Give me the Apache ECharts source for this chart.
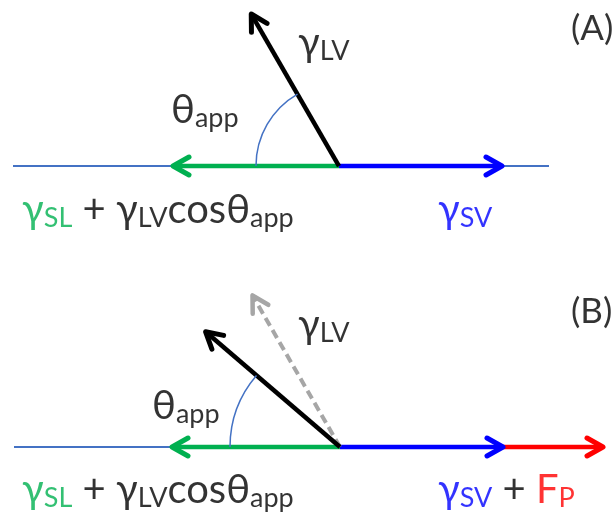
<!DOCTYPE html>
<html>
<head>
<meta charset="utf-8">
<script src="https://cdn.jsdelivr.net/npm/echarts@6/dist/echarts.min.js"></script>
<style>html,body{margin:0;padding:0;background:#fff}#c{width:616px;height:520px}</style>
</head>
<body>
<div id="c"></div>
<script>
// ---- Data (diagram units: 1 unit = length scale of the force diagram; origin = contact point) ----
const panelIds      = ['A', 'B'];
const baseLeft      = [-3.26, -3.26];   // solid surface line extent
const baseRight     = [2.10, 2.09];
const gammaSLLen    = [1.66, 1.68];     // γSL + γLV cosθ (green, to the left)
const gammaSVLen    = [1.63, 1.63];     // γSV (blue, to the right)
const forcePLen     = [0, 1.00];        // F_P (red, continues γSV)
const gammaLVLen    = [1.755, 1.77];    // γLV magnitude
const thetaApp      = [60, 40.6];       // apparent contact angle (deg)
const ghostLen      = [0, 1.75];        // previous γLV (dashed grey)
const ghostTheta    = [0, 60];
const arcRadius     = [0.83, 1.10];

// labels: [x, y] anchors in diagram units, and rich-text content
const labelPosA = [[2.32, 1.37], [-0.41, 1.23], [-1.68, 0.56], [-3.17, -0.44], [0.99, -0.44]];
const labelPosB = [[2.31, 1.35], [-0.42, 1.22], [-1.88, 0.41], [-3.18, -0.43], [0.98, -0.43]];
const labelTextA = ['{p|(A)}', '{m|γ}{ms|LV}', '{m|θ}{ms|app}', '{g|γ}{gs|SL}{m| + γ}{ms|LV}{m|cosθ}{ms|app}', '{b|γ}{bs|SV}'];
const labelTextB = ['{p|(B)}', '{m|γ}{ms|LV}', '{m|θ}{ms|app}', '{g|γ}{gs|SL}{m| + γ}{ms|LV}{m|cosθ}{ms|app}', '{b|γ}{bs|SV}{m| + }{r|F}{rs|P}'];

// ---- Styles ----
const FONT = 'Lato, "Noto Sans", sans-serif';
const styles = {
  base:  { stroke: '#4472C4', lineWidth: 2, head: false },
  green: { stroke: '#00B050', lineWidth: 4.5, head: true },
  red:   { stroke: '#FF0000', lineWidth: 4.5, head: true },
  blue:  { stroke: '#0000FF', lineWidth: 4.5, head: true },
  ghost: { stroke: '#A6A6A6', lineWidth: 4, head: true, dash: [9, 5] },
  black: { stroke: '#000000', lineWidth: 4.5, head: true },
  arc:   { stroke: '#4472C4', lineWidth: 1.5 }
};

function buildItems(p) {
  const d2r = Math.PI / 180;
  const items = [];
  items.push({ kind: 'base', value: [baseLeft[p], 0, baseRight[p], 0] });
  items.push({ kind: 'green', value: [0, 0, -gammaSLLen[p], 0] });
  if (forcePLen[p] > 0) items.push({ kind: 'red', value: [gammaSVLen[p], 0, gammaSVLen[p] + forcePLen[p], 0] });
  items.push({ kind: 'blue', value: [0, 0, gammaSVLen[p], 0] });
  if (ghostLen[p] > 0) items.push({ kind: 'ghost', value: [0, 0, -ghostLen[p] * Math.cos(ghostTheta[p] * d2r), ghostLen[p] * Math.sin(ghostTheta[p] * d2r)] });
  items.push({ kind: 'black', value: [0, 0, -gammaLVLen[p] * Math.cos(thetaApp[p] * d2r), gammaLVLen[p] * Math.sin(thetaApp[p] * d2r)] });
  items.push({ kind: 'arc', value: [0, 0, arcRadius[p], thetaApp[p]] });
  return items;
}

function makeRender(items) {
  return function (params, api) {
    const it = items[params.dataIndex];
    const st = styles[it.kind];
    if (it.kind === 'arc') {
      const c = api.coord([api.value(0), api.value(1)]);
      const r = api.size([api.value(2), 0])[0];
      const th = api.value(3);
      return {
        type: 'arc',
        shape: { cx: c[0], cy: c[1], r: r, startAngle: -Math.PI, endAngle: -(180 - th) * Math.PI / 180, clockwise: true },
        style: { stroke: st.stroke, lineWidth: st.lineWidth, fill: null }
      };
    }
    const a = api.coord([api.value(0), api.value(1)]);
    const b = api.coord([api.value(2), api.value(3)]);
    const children = [{
      type: 'line',
      shape: { x1: a[0], y1: a[1], x2: b[0], y2: b[1] },
      style: { stroke: st.stroke, lineWidth: st.lineWidth, lineDash: st.dash || null, lineCap: 'butt' }
    }];
    if (st.head) {
      const dx = b[0] - a[0], dy = b[1] - a[1];
      const L = Math.sqrt(dx * dx + dy * dy);
      const ux = dx / L, uy = dy / L, nx = -uy, ny = ux;
      const back = 16, side = 9;
      children.push({
        type: 'polyline',
        shape: { points: [
          [b[0] - back * ux + side * nx, b[1] - back * uy + side * ny],
          [b[0], b[1]],
          [b[0] - back * ux - side * nx, b[1] - back * uy - side * ny]
        ] },
        style: { stroke: st.stroke, lineWidth: st.lineWidth + 0.5, fill: null, lineCap: 'round', lineJoin: 'round' }
      });
    }
    return { type: 'group', children: children };
  };
}

const rich = {
  p:  { fontSize: 35, fontFamily: FONT, color: '#000', lineHeight: 44 },
  m:  { fontSize: 40, fontFamily: FONT, color: '#000', lineHeight: 44 },
  ms: { fontSize: 27, fontFamily: FONT, color: '#000', lineHeight: 26, verticalAlign: 'bottom' },
  g:  { fontSize: 40, fontFamily: FONT, color: '#00B050', lineHeight: 44 },
  gs: { fontSize: 27, fontFamily: FONT, color: '#00B050', lineHeight: 26, verticalAlign: 'bottom' },
  b:  { fontSize: 40, fontFamily: FONT, color: '#0000FF', lineHeight: 44 },
  bs: { fontSize: 27, fontFamily: FONT, color: '#0000FF', lineHeight: 26, verticalAlign: 'bottom' },
  r:  { fontSize: 40, fontFamily: FONT, color: '#FF0000', lineHeight: 44 },
  rs: { fontSize: 27, fontFamily: FONT, color: '#FF0000', lineHeight: 26, verticalAlign: 'bottom' }
};

const labelPos = [labelPosA, labelPosB];
const labelText = [labelTextA, labelTextB];

const series = [];
panelIds.forEach(function (id, p) {
  const items = buildItems(p);
  series.push({
    type: 'custom', name: 'vectors ' + id, xAxisIndex: p, yAxisIndex: p,
    clip: false, silent: true,
    renderItem: makeRender(items),
    data: items.map(function (it) { return it.value; })
  });
  series.push({
    type: 'scatter', name: 'labels ' + id, xAxisIndex: p, yAxisIndex: p,
    symbolSize: 0, silent: true,
    data: labelPos[p].map(function (pos, i) {
      return { value: pos, label: { formatter: labelText[p][i] } };
    }),
    label: { show: true, position: 'right', distance: 0, rich: rich }
  });
});

const chart = echarts.init(document.getElementById('c'), null, { renderer: 'canvas' });
chart.setOption({
  backgroundColor: '#ffffff',
  animation: false,
  grid: [
    { left: 0, top: 0, width: 616, height: 260 },
    { left: 0, top: 260, width: 616, height: 260 }
  ],
  xAxis: [
    { type: 'value', gridIndex: 0, min: -3.39, max: 2.77, show: false },
    { type: 'value', gridIndex: 1, min: -3.40, max: 2.76, show: false }
  ],
  yAxis: [
    { type: 'value', gridIndex: 0, min: -0.94, max: 1.66, show: false },
    { type: 'value', gridIndex: 1, min: -0.73, max: 1.87, show: false }
  ],
  series: series
});
</script>
</body>
</html>
